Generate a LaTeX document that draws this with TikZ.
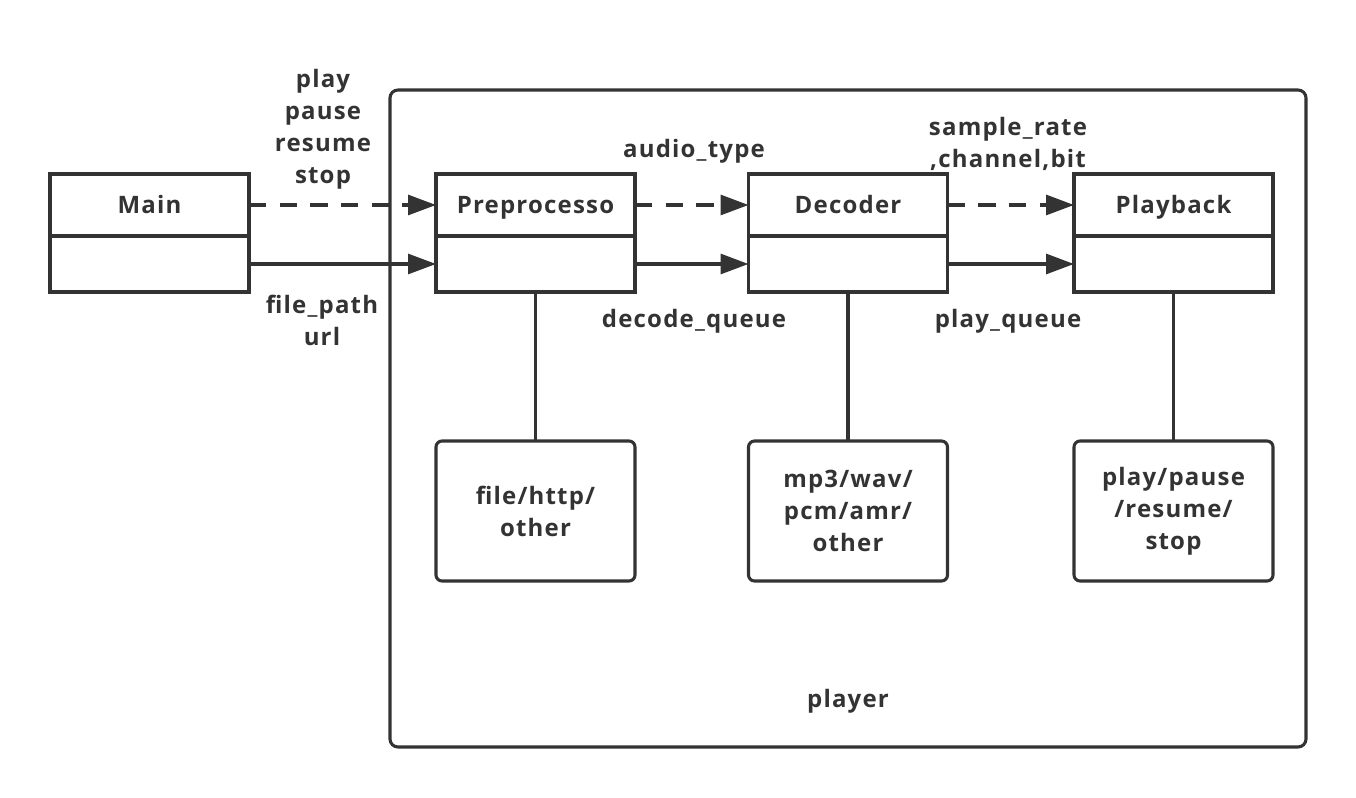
\documentclass[tikz,border=0pt]{standalone}
\usepackage{fontspec}
\setmainfont{Open Sans}[LetterSpace=5]
\usetikzlibrary{arrows.meta}
\definecolor{ink}{HTML}{333333}
\tikzset{
  px/.style={x=0.75pt,y=-0.75pt},
  fnt/.style={font=\fontsize{18}{24}\selectfont\bfseries, text=ink, inner sep=0pt},
  txt/.style={fnt, align=center},
  cellT/.style={draw=ink, line width=2.3pt, minimum width=149.25pt, minimum height=46.5pt, inner sep=0pt, outer sep=0pt, fnt, text height=12.9pt, text depth=0pt},
  cellB/.style={draw=ink, line width=2.3pt, minimum width=149.25pt, minimum height=42pt, inner sep=0pt, outer sep=0pt},
  lowbox/.style={draw=ink, line width=2.3pt, rounded corners=4.5pt, minimum width=149.25pt, minimum height=105pt, inner sep=0pt, outer sep=0pt, txt},
  conn/.style={draw=ink, line width=2.3pt},
  arr/.style={conn, -{Triangle[length=21pt,width=15pt]}},
  darr/.style={arr, dash pattern=on 13pt off 10pt},
}
\begin{document}
\begin{tikzpicture}[px]
\useasboundingbox (0,0) rectangle (1356,798);
% container
\node[draw=ink, line width=2.3pt, rounded corners=6pt, minimum width=687pt, minimum height=492.75pt, inner sep=0pt, outer sep=0pt] (player) at (848,418.5) {};
\node[txt] (playerlbl) at (848,701) {player};
% top cells
\node[cellT] (mainT) at (149.5,205) {Main};
\node[cellB] (mainB) at (149.5,264) {};
\node[cellT] (preT) at (535.5,205) {Preprocesso};
\node[cellB] (preB) at (535.5,264) {};
\node[cellT] (decT) at (848,205) {Decoder};
\node[cellB] (decB) at (848,264) {};
\node[cellT] (plyT) at (1173.5,205) {Playback};
\node[cellB] (plyB) at (1173.5,264) {};
% lower boxes
\node[lowbox] (preL) at (535.5,511) {file/http/\\other};
\node[lowbox] (decL) at (848,511) {mp3/wav/\\pcm/amr/\\other};
\node[lowbox] (plyL) at (1173.5,511) {play/pause\\/resume/\\stop};
% connectors
\draw[darr] (mainT.east) -- (preT.west);
\draw[arr] (mainB.east) -- (preB.west);
\draw[darr] (preT.east) -- (decT.west);
\draw[arr] (preB.east) -- (decB.west);
\draw[darr] (decT.east) -- (plyT.west);
\draw[arr] (decB.east) -- (plyB.west);
\draw[conn] (preB.south) -- (preL.north);
\draw[conn] (decB.south) -- (decL.north);
\draw[conn] (plyB.south) -- (plyL.north);
% labels
\node[txt] (l1) at (323,129) {play\\pause\\resume\\stop};
\node[txt] (l2) at (322,320) {file\_path\\url};
\node[txt] (l3) at (694,151) {audio\_type};
\node[txt] (l4) at (694,321) {decode\_queue};
\node[txt] (l5) at (1008,143.5) {sample\_rate\\,channel,bit};
\node[txt] (l6) at (1008,321) {play\_queue};
\end{tikzpicture}
\end{document}
